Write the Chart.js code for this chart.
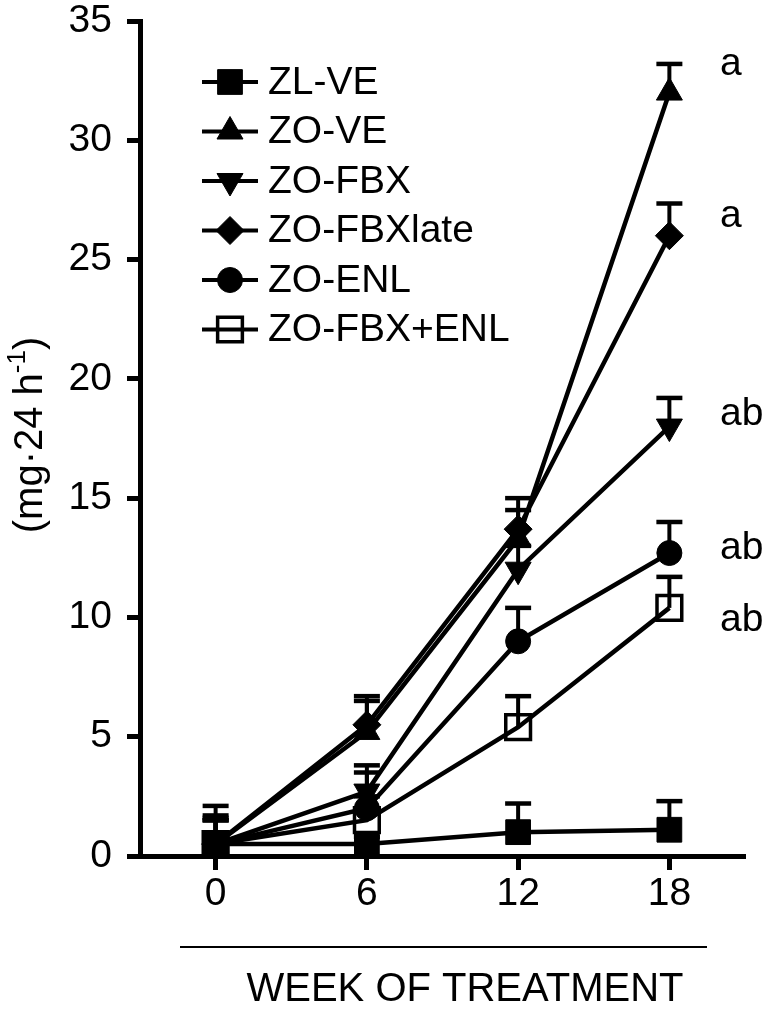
<!DOCTYPE html>
<html>
<head>
<meta charset="utf-8">
<title>Food intake</title>
<script src="https://cdn.jsdelivr.net/npm/chart.js@4.4.0/dist/chart.umd.min.js"></script>
<style>
  html, body { margin: 0; padding: 0; background: #fff; }
  #wrap { width: 767px; height: 1010px; }
</style>
</head>
<body>
<div id="wrap"><canvas id="intakeChart" width="767" height="1010"></canvas></div>
<script>
// --- données ---
const weeks = [0, 6, 12, 18];
const xTickValues = [0, 6, 12, 18];
const yTickStep = 5;

const seriesNames = ['ZL-VE', 'ZO-VE', 'ZO-FBX', 'ZO-FBXlate', 'ZO-ENL', 'ZO-FBX+ENL'];

const zlVe      = [0.5, 0.5, 1.0, 1.1];
const zoVe      = [0.5, 5.2, 13.3, 32.0];
const zoFbx     = [0.5, 2.7, 12.0, 18.0];
const zoFbxLate = [0.5, 5.5, 13.7, 26.0];
const zoEnl     = [0.5, 2.0, 9.0, 12.7];
const zoFbxEnl  = [0.5, 1.5, 5.4, 10.4];

// erreurs (barre supérieure seulement)
const zlVeErr      = [1.2, 0.3, 1.2, 1.2];
const zoVeErr      = [1.6, 1.3, 1.7, 1.2];
const zoFbxErr     = [1.1, 1.1, 1.0, 1.2];
const zoFbxLateErr = [1.0, 1.2, 0.8, 1.35];
const zoEnlErr     = [1.0, 1.5, 1.4, 1.3];
const zoFbxEnlErr  = [1.0, 1.0, 1.3, 1.3];

// lettres de significativité à droite
const sigLetters = ['a', 'a', 'ab', 'ab', 'ab'];
const sigLevels  = [33.2, 26.8, 18.5, 12.9, 9.9];

const FONT = '"Liberation Sans", Arial, Helvetica, sans-serif';

function makeDataset(label, values, errors, style, radius, rotation, open) {
    return {
        label: label,
        data: weeks.map((w, i) => ({ x: w, y: values[i] })),
        errors: errors,
        borderColor: '#000',
        borderWidth: 4.5,
        tension: 0,
        pointStyle: style,
        pointRadius: radius,
        pointRotation: rotation,
        pointBackgroundColor: open ? 'rgba(0,0,0,0)' : '#000',
        pointBorderColor: '#000',
        pointBorderWidth: open ? 3.5 : 1,
    };
}

// barres d'erreur (vers le haut)
const errorBars = {
    id: 'errorBars',
    beforeDatasetsDraw(chart) {
        const ctx = chart.ctx;
        const yScale = chart.scales.y;
        ctx.save();
        ctx.strokeStyle = '#000';
        chart.data.datasets.forEach((ds, di) => {
            const meta = chart.getDatasetMeta(di);
            meta.data.forEach((pt, i) => {
                const top = yScale.getPixelForValue(ds.data[i].y + ds.errors[i]);
                ctx.lineWidth = 4;
                ctx.beginPath();
                ctx.moveTo(pt.x, pt.y);
                ctx.lineTo(pt.x, top);
                ctx.stroke();
                ctx.lineWidth = 4.5;
                ctx.beginPath();
                ctx.moveTo(pt.x - 13, top);
                ctx.lineTo(pt.x + 13, top);
                ctx.stroke();
            });
        });
        ctx.restore();
    }
};

// légende maison : trait + marqueur + texte
const lineLegend = {
    id: 'lineLegend',
    afterDraw(chart) {
        const ctx = chart.ctx;
        ctx.save();
        chart.data.datasets.forEach((ds, i) => {
            const y = 82 + i * 49.5;
            ctx.strokeStyle = '#000';
            ctx.lineWidth = 4;
            ctx.beginPath();
            ctx.moveTo(202, y);
            ctx.lineTo(258, y);
            ctx.stroke();
            ctx.fillStyle = ds.pointBackgroundColor;
            ctx.lineWidth = ds.pointBorderWidth;
            Chart.helpers.drawPoint(ctx, {
                pointStyle: ds.pointStyle,
                radius: ds.pointRadius,
                rotation: ds.pointRotation,
                borderWidth: ds.pointBorderWidth
            }, 230, y);
            ctx.fillStyle = '#000';
            ctx.font = '39px ' + FONT;
            ctx.textAlign = 'left';
            ctx.textBaseline = 'middle';
            ctx.fillText(ds.label, 268, y + 1);
        });
        ctx.restore();
    }
};

// textes : lettres, titre de l'axe y, titre de l'axe x
const extraText = {
    id: 'extraText',
    afterDraw(chart) {
        const ctx = chart.ctx;
        const yScale = chart.scales.y;
        ctx.save();
        ctx.fillStyle = '#000';
        ctx.textBaseline = 'middle';
        ctx.textAlign = 'left';
        ctx.font = '39px ' + FONT;
        sigLetters.forEach((t, i) => {
            ctx.fillText(t, 720, yScale.getPixelForValue(sigLevels[i]));
        });

        // titre vertical avec exposant
        ctx.translate(29, 435);
        ctx.rotate(-Math.PI / 2);
        const main = '(mg\u00b724 h';
        const sup = '-1';
        const end = ')';
        ctx.font = '40px ' + FONT;
        const wMain = ctx.measureText(main).width;
        const wEnd = ctx.measureText(end).width;
        ctx.font = '26px ' + FONT;
        const wSup = ctx.measureText(sup).width;
        let x0 = -(wMain + wSup + wEnd) / 2;
        ctx.font = '40px ' + FONT;
        ctx.fillText(main, x0, 2);
        ctx.font = '26px ' + FONT;
        ctx.fillText(sup, x0 + wMain, -11);
        ctx.font = '40px ' + FONT;
        ctx.fillText(end, x0 + wMain + wSup, 2);
        ctx.restore();

        // trait + titre de l'axe x
        ctx.save();
        ctx.strokeStyle = '#000';
        ctx.lineWidth = 2;
        ctx.beginPath();
        ctx.moveTo(180, 947);
        ctx.lineTo(707, 947);
        ctx.stroke();
        ctx.fillStyle = '#000';
        ctx.font = '40px ' + FONT;
        ctx.textAlign = 'center';
        ctx.textBaseline = 'middle';
        ctx.fillText('WEEK OF TREATMENT', 465, 990);
        ctx.restore();
    }
};

const ctx = document.getElementById('intakeChart').getContext('2d');
new Chart(ctx, {
    type: 'line',
    data: {
        datasets: [
            makeDataset(seriesNames[0], zlVe, zlVeErr, 'rect', 17.5, 0, false),
            makeDataset(seriesNames[1], zoVe, zoVeErr, 'triangle', 15, 0, false),
            makeDataset(seriesNames[2], zoFbx, zoFbxErr, 'triangle', 15, 180, false),
            makeDataset(seriesNames[3], zoFbxLate, zoFbxLateErr, 'rectRot', 14, 0, false),
            makeDataset(seriesNames[4], zoEnl, zoEnlErr, 'circle', 12.5, 0, false),
            makeDataset(seriesNames[5], zoFbxEnl, zoFbxEnlErr, 'rect', 17.5, 0, true),
        ]
    },
    options: {
        responsive: false,
        animation: false,
        devicePixelRatio: 1,
        layout: { padding: { top: 19, right: 22, left: 0, bottom: 0 } },
        plugins: {
            legend: { display: false },
            tooltip: { enabled: false }
        },
        scales: {
            x: {
                type: 'linear',
                min: -3,
                max: 21,
                afterBuildTicks: s => { s.ticks = xTickValues.map(v => ({ value: v })); },
                afterFit: s => { s.height = 154; s.paddingLeft = 0; s.paddingRight = 0; },
                ticks: { color: '#000', padding: 5, font: { family: FONT, size: 39, lineHeight: 1 } },
                grid: { drawOnChartArea: false, drawTicks: true, tickLength: 14, tickWidth: 5, tickColor: '#000' },
                border: { display: true, color: '#000', width: 5 }
            },
            y: {
                min: 0,
                max: 35,
                afterFit: s => { s.width = 140; s.paddingTop = 0; s.paddingBottom = 0; },
                ticks: { stepSize: yTickStep, color: '#000', padding: 15, font: { family: FONT, size: 39, lineHeight: 1 } },
                grid: { drawOnChartArea: false, drawTicks: true, tickLength: 13, tickWidth: 5, tickColor: '#000' },
                border: { display: true, color: '#000', width: 5 }
            }
        }
    },
    plugins: [errorBars, lineLegend, extraText]
});
</script>
</body>
</html>
